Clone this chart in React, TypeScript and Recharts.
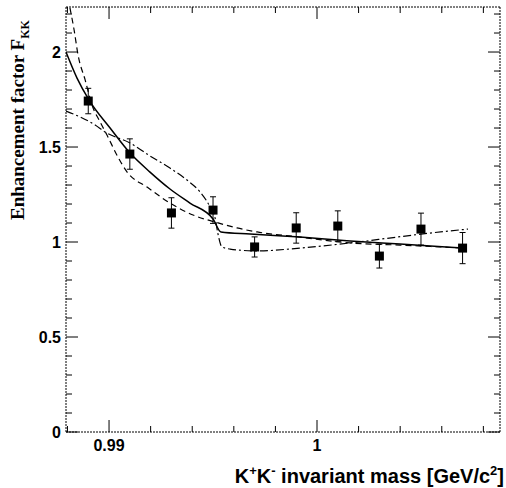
import {
  ComposedChart,
  Line,
  Scatter,
  ErrorBar,
  XAxis,
  YAxis,
} from "recharts";

// measured points: mass bin centre, enhancement factor, stat. error
const massBins = [0.989, 0.991, 0.993, 0.995, 0.997, 0.999, 1.001, 1.003, 1.005, 1.007];
const factorValues = [1.742, 1.463, 1.153, 1.168, 0.974, 1.074, 1.084, 0.926, 1.068, 0.968];
const factorErrors = [0.067, 0.08, 0.08, 0.07, 0.053, 0.08, 0.08, 0.063, 0.084, 0.082];

// fit curves
const solidX = [0.98793, 0.98846, 0.98904, 0.99005, 0.99101, 0.99197, 0.99293, 0.99389, 0.995, 0.99538, 0.99678, 0.99918, 1.00159, 1.00399, 1.00702];
const solidY = [2.0, 1.863, 1.747, 1.6, 1.468, 1.368, 1.279, 1.205, 1.121, 1.053, 1.042, 1.026, 1.005, 0.989, 0.968];

const dashedX = [0.98812, 0.98832, 0.98851, 0.98885, 0.98918, 0.98957, 0.9899, 0.99043, 0.99087, 0.99183, 0.99293, 0.99404, 0.9951, 0.99615, 0.99712, 0.99918, 1.00159, 1.00399, 1.00702];
const dashedY = [2.232, 2.116, 1.984, 1.853, 1.721, 1.632, 1.563, 1.447, 1.368, 1.289, 1.205, 1.142, 1.105, 1.074, 1.053, 1.026, 0.995, 0.984, 0.968];

const dashDotX = [0.98793, 0.98861, 0.98933, 0.98981, 0.99101, 0.99197, 0.99293, 0.99375, 0.99438, 0.99486, 0.9951, 0.99524, 0.99543, 0.99582, 0.99712, 0.99918, 1.00159, 1.00385, 1.00543, 1.00726];
const dashDotY = [1.689, 1.658, 1.616, 1.579, 1.521, 1.453, 1.389, 1.326, 1.263, 1.184, 1.126, 1.042, 0.974, 0.963, 0.953, 0.968, 0.995, 1.026, 1.047, 1.068];

const xTicks = [0.988, 0.99, 0.992, 0.994, 0.996, 0.998, 1.0, 1.002, 1.004, 1.006, 1.008];
const yTicks = [0, 0.1, 0.2, 0.3, 0.4, 0.5, 0.6, 0.7, 0.8, 0.9, 1, 1.1, 1.2, 1.3, 1.4, 1.5, 1.6, 1.7, 1.8, 1.9, 2, 2.1, 2.2];

const points = massBins.map((x, i) => ({ x, y: factorValues[i], err: factorErrors[i] }));
const zip = (xs: number[], ys: number[]) => xs.map((x, i) => ({ x, y: ys[i] }));
const solidData = zip(solidX, solidY);
const dashedData = zip(dashedX, dashedY);
const dashDotData = zip(dashDotX, dashDotY);

const tickFont = { fontFamily: "Liberation Sans, Arial, sans-serif", fontWeight: "bold", fontSize: 16 };
const frame = { stroke: "#000", strokeDasharray: "2 1", strokeWidth: 1 };

const isMajorX = (v: number) => Math.abs(v * 100 - Math.round(v * 100)) < 1e-6;
const isMajorY = (v: number) => Math.abs(v * 2 - Math.round(v * 2)) < 1e-6;
const fmtX = (v: number) => (Math.abs(v - 1) < 1e-6 ? "1" : v.toFixed(2));

function BottomTick({ x, y, payload }: any) {
  const major = isMajorX(payload.value);
  return (
    <g>
      <line x1={x} x2={x} y1={y} y2={y - (major ? 12 : 6)} stroke="#000" />
      {major && (
        <text x={x} y={y + 19} textAnchor="middle" fill="#000" {...tickFont}>
          {fmtX(payload.value)}
        </text>
      )}
    </g>
  );
}

function TopTick({ x, y, payload }: any) {
  const major = isMajorX(payload.value);
  return <line x1={x} x2={x} y1={y} y2={y + (major ? 12 : 6)} stroke="#000" />;
}

function LeftTick({ x, y, payload }: any) {
  const major = isMajorY(payload.value);
  return (
    <g>
      <line x1={x} x2={x + (major ? 12 : 6)} y1={y} y2={y} stroke="#000" />
      {major && (
        <text x={x - 5} y={y + 6} textAnchor="end" fill="#000" {...tickFont}>
          {String(payload.value)}
        </text>
      )}
    </g>
  );
}

function RightTick({ x, y, payload }: any) {
  const major = isMajorY(payload.value);
  return <line x1={x} x2={x - (major ? 12 : 6)} y1={y} y2={y} stroke="#000" />;
}

function XTitle() {
  return (
    <text x={504} y={483} textAnchor="end" fill="#000" {...tickFont} fontSize={20}>
      K<tspan fontSize={13} dy={-8}>+</tspan>
      <tspan dy={8}>K</tspan>
      <tspan fontSize={13} dy={-8}>-</tspan>
      <tspan dy={8}> invariant mass [GeV/c</tspan>
      <tspan fontSize={13} dy={-8}>2</tspan>
      <tspan dy={8}>]</tspan>
    </text>
  );
}

function YTitle() {
  return (
    <text
      transform="translate(24,220) rotate(-90)"
      textAnchor="start"
      fill="#000"
      fontFamily="Liberation Serif, Times New Roman, serif"
      fontWeight="bold"
      fontSize={19}
    >
      Enhancement factor F
      <tspan fontSize={12} dy={5}>KK</tspan>
    </text>
  );
}

function Square({ cx, cy }: any) {
  return <rect x={cx - 4.5} y={cy - 4.5} width={9} height={9} fill="#000" />;
}

export default function App() {
  return (
    <div style={{ position: "absolute", left: 0, top: 0 }}>
      <ComposedChart
        width={506}
        height={488}
        margin={{ top: 6, right: 5, bottom: 26, left: 36 }}
        style={{ background: "#fff" }}
      >
        <XAxis
          dataKey="x"
          type="number"
          domain={[0.98793, 1.0088]}
          allowDataOverflow
          ticks={xTicks}
          interval={0}
          height={30}
          tickSize={0}
          tickMargin={0}
          tickLine={false}
          axisLine={frame}
          tick={<BottomTick />}
          label={{ content: () => <XTitle /> }}
        />
        <XAxis
          xAxisId="top"
          orientation="top"
          dataKey="x"
          type="number"
          domain={[0.98793, 1.0088]}
          allowDataOverflow
          ticks={xTicks}
          interval={0}
          height={1}
          tickSize={0}
          tickMargin={0}
          tickLine={false}
          axisLine={frame}
          tick={<TopTick />}
        />
        <YAxis
          type="number"
          domain={[0, 2.237]}
          allowDataOverflow
          ticks={yTicks}
          interval={0}
          width={30}
          tickSize={0}
          tickMargin={0}
          tickLine={false}
          axisLine={frame}
          tick={<LeftTick />}
          label={{ content: () => <YTitle /> }}
        />
        <YAxis
          yAxisId="right"
          orientation="right"
          type="number"
          domain={[0, 2.237]}
          allowDataOverflow
          ticks={yTicks}
          interval={0}
          width={1}
          tickSize={0}
          tickMargin={0}
          tickLine={false}
          axisLine={frame}
          tick={<RightTick />}
        />
        <Line
          data={dashDotData}
          dataKey="y"
          type="monotone"
          stroke="#000"
          strokeWidth={1.2}
          strokeDasharray="8 3 2 3"
          dot={false}
          isAnimationActive={false}
        />
        <Line
          data={dashedData}
          dataKey="y"
          type="monotone"
          stroke="#000"
          strokeWidth={1.2}
          strokeDasharray="6 4"
          dot={false}
          isAnimationActive={false}
        />
        <Line
          data={solidData}
          dataKey="y"
          type="monotone"
          stroke="#000"
          strokeWidth={1.5}
          dot={false}
          isAnimationActive={false}
        />
        <Scatter data={points} dataKey="y" shape={<Square />} isAnimationActive={false}>
          <ErrorBar dataKey="err" direction="y" width={3} stroke="#000" strokeWidth={1} />
        </Scatter>
      </ComposedChart>
    </div>
  );
}
